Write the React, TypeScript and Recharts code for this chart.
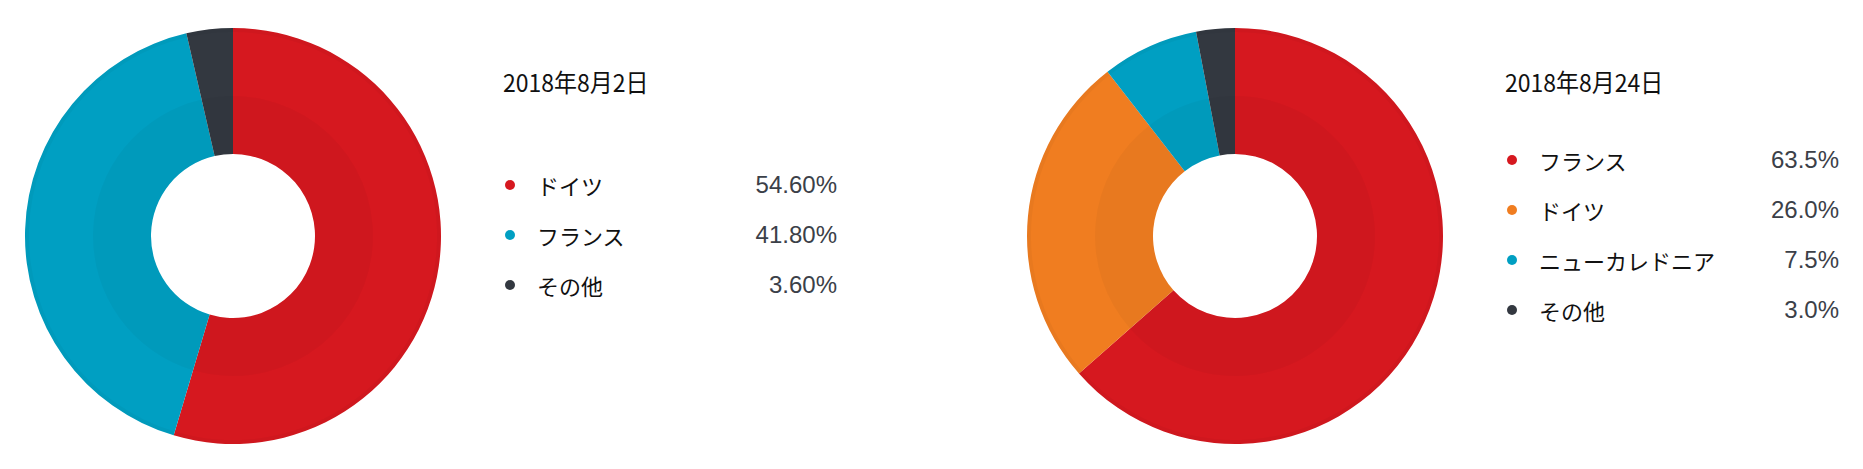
import React from 'react';
import { PieChart, Pie, Cell } from 'recharts';

const aug2Title = '2018年8月2日';
const aug2Names = ['ドイツ', 'フランス', 'その他'];
const aug2Values = [54.6, 41.8, 3.6];
const aug2Labels = ['54.60%', '41.80%', '3.60%'];

const aug24Title = '2018年8月24日';
const aug24Names = ['フランス', 'ドイツ', 'ニューカレドニア', 'その他'];
const aug24Values = [63.5, 26.0, 7.5, 3.0];
const aug24Labels = ['63.5%', '26.0%', '7.5%', '3.0%'];

// colours by slice position in each chart
const aug2Colors = ['#d6181f', '#009fc2', '#333840'];
const aug24Colors = ['#d6181f', '#f07d20', '#009fc2', '#333840'];

interface PanelProps {
  left: number;
  title: string;
  names: string[];
  values: number[];
  labels: string[];
  colors: string[];
  cx: number;
  legendLeft: number;
  valueRight: number;
}

function DonutPanel({ left, title, names, values, labels, colors, cx, legendLeft, valueRight }: PanelProps) {
  const data = names.map((name, i) => ({ name, value: values[i] }));
  const cy = 236;
  const rowH = 50;
  const rowsTop = 235 - (names.length * rowH) / 2;

  return (
    <div style={{ position: 'absolute', left, top: 0, width: 860, height: 469 }}>
      <PieChart width={470} height={469} margin={{ top: 0, right: 0, bottom: 0, left: 0 }}>
        <Pie
          data={data}
          dataKey="value"
          cx={cx}
          cy={cy}
          innerRadius={82}
          outerRadius={208}
          startAngle={90}
          endAngle={-270}
          stroke="none"
          isAnimationActive={false}
        >
          {data.map((d, i) => (
            <Cell key={d.name} fill={colors[i]} />
          ))}
        </Pie>
        {/* soft darker band near the hole */}
        <Pie
          data={data}
          dataKey="value"
          cx={cx}
          cy={cy}
          innerRadius={82}
          outerRadius={140}
          startAngle={90}
          endAngle={-270}
          stroke="none"
          fill="#000"
          fillOpacity={0.032}
          isAnimationActive={false}
        />
        {/* thin rim at the outer edge */}
        <Pie
          data={data}
          dataKey="value"
          cx={cx}
          cy={cy}
          innerRadius={204}
          outerRadius={208}
          startAngle={90}
          endAngle={-270}
          stroke="none"
          fill="#000"
          fillOpacity={0.03}
          isAnimationActive={false}
        />
      </PieChart>

      <div
        style={{
          position: 'absolute',
          left: legendLeft - 7,
          top: 70,
          fontFamily: '"Noto Sans CJK JP", sans-serif',
          fontSize: 23,
          lineHeight: '23px',
          color: '#111',
          whiteSpace: 'nowrap',
          transform: 'scaleY(1.08)',
          transformOrigin: 'left center',
        }}
      >
        {title}
      </div>

      {names.map((name, i) => (
        <div
          key={name}
          style={{
            position: 'absolute',
            left: legendLeft - 5,
            top: rowsTop + i * rowH,
            width: valueRight - legendLeft + 5,
            height: rowH,
            display: 'flex',
            alignItems: 'center',
          }}
        >
          <span
            style={{
              width: 10,
              height: 10,
              borderRadius: 5,
              background: colors[i],
              flex: 'none',
            }}
          />
          <span
            style={{
              marginLeft: 22,
              fontFamily: '"Noto Sans CJK JP", sans-serif',
              fontSize: 22,
              color: '#111',
              whiteSpace: 'nowrap',
            }}
          >
            {name}
          </span>
          <span
            style={{
              marginLeft: 'auto',
              fontFamily: '"Liberation Sans", Arial, sans-serif',
              fontSize: 24,
              color: '#3b4048',
            }}
          >
            {labels[i]}
          </span>
        </div>
      ))}
    </div>
  );
}

export default function App() {
  return (
    <div style={{ position: 'absolute', left: 0, top: 0, width: 1863, height: 469, background: '#fff', overflow: 'hidden' }}>
      <DonutPanel
        left={0}
        title={aug2Title}
        names={aug2Names}
        values={aug2Values}
        labels={aug2Labels}
        colors={aug2Colors}
        cx={233}
        legendLeft={510}
        valueRight={837}
      />
      <DonutPanel
        left={1000}
        title={aug24Title}
        names={aug24Names}
        values={aug24Values}
        labels={aug24Labels}
        colors={aug24Colors}
        cx={235}
        legendLeft={512}
        valueRight={839}
      />
    </div>
  );
}
